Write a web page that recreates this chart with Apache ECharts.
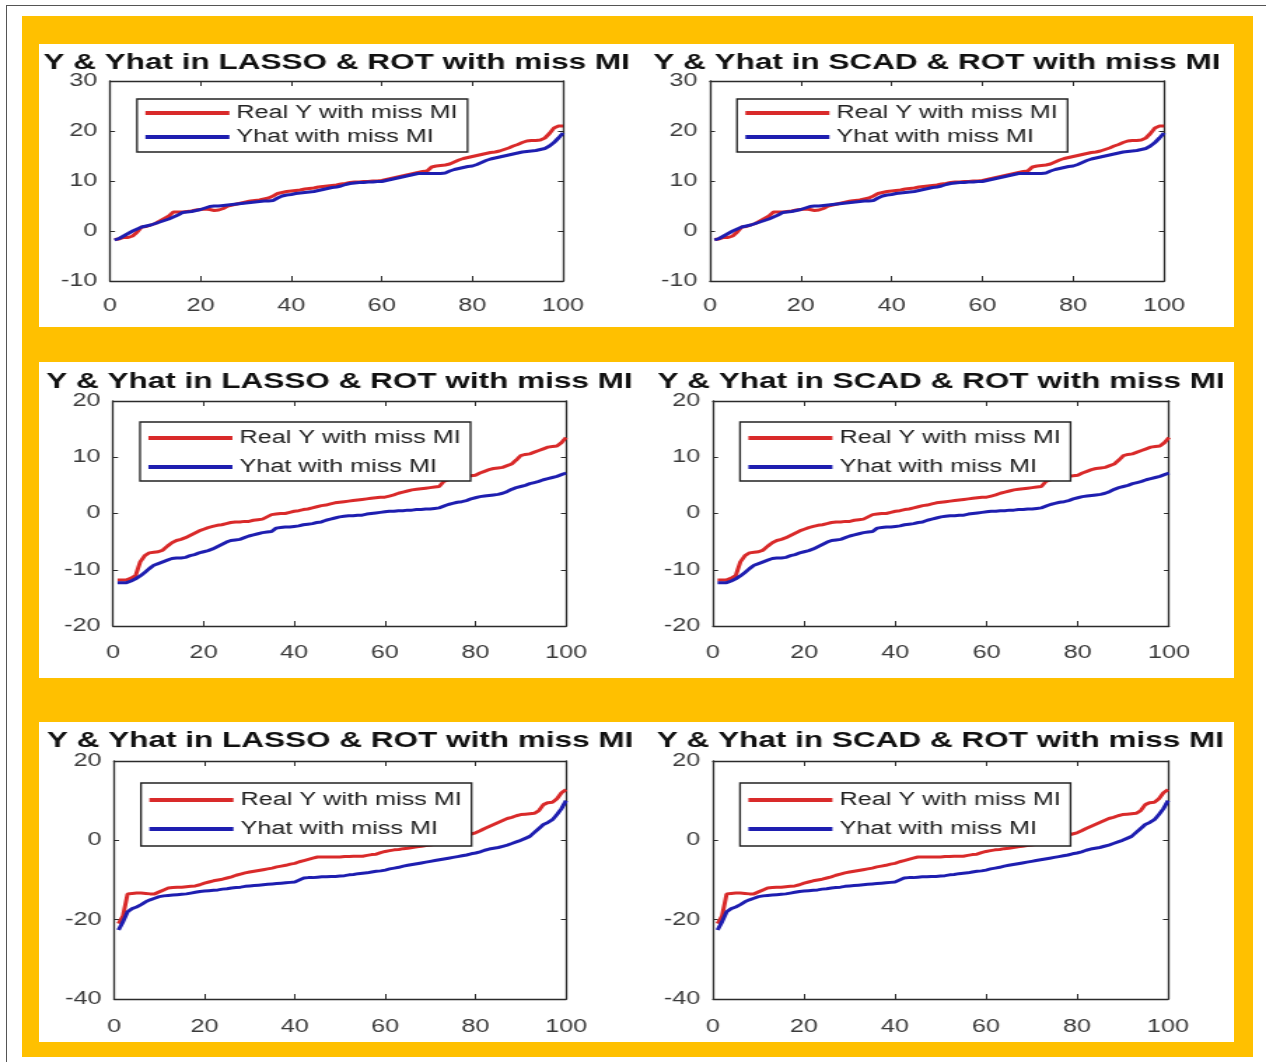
<!DOCTYPE html>
<html><head><meta charset="utf-8">
<script src="https://cdn.jsdelivr.net/npm/echarts@6/dist/echarts.min.js"></script>
<style>
html,body{margin:0;padding:0;background:#fff;overflow:hidden;width:1266px;height:1062px;}
#frame{position:absolute;left:6px;top:5px;width:1300px;height:1100px;border:1.5px solid #555;box-sizing:border-box;}
#orange{position:absolute;left:22px;top:16px;width:1231px;height:1041px;background:#FFC000;}
.panel{position:absolute;left:39px;width:1195px;background:#fff;}
#chart{position:absolute;left:0;top:0;width:904px;height:1062px;transform:scaleX(1.40044);transform-origin:0 0;}
</style></head>
<body>
<div id="frame"></div>
<div id="orange"></div>
<div class="panel" style="top:44px;height:283px"></div>
<div class="panel" style="top:362px;height:316px"></div>
<div class="panel" style="top:722px;height:320px"></div>
<div id="chart"></div>
<script>
// ---------- data ----------
const titleLeft = 'Y & Yhat in LASSO & ROT with miss MI';
const titleRight = 'Y & Yhat in SCAD & ROT with miss MI';
const nameReal = 'Real Y with miss MI';
const nameHat = 'Yhat with miss MI';
const xTicks = [0, 20, 40, 60, 80, 100];

const row1Real = [-1.7,-1.6,-1.3,-1.3,-1.0,-0.2,0.8,0.9,1.2,1.5,
 2.0,2.5,3.0,3.8,3.8,3.8,3.9,4.0,4.2,4.3,
 4.4,4.3,4.1,4.2,4.5,5.0,5.2,5.4,5.6,5.8,
 6.0,6.1,6.2,6.4,6.6,7.0,7.5,7.7,7.9,8.0,
 8.1,8.2,8.4,8.5,8.6,8.8,8.9,9.0,9.1,9.2,
 9.4,9.5,9.7,9.8,9.8,9.9,9.9,10.0,10.0,10.1,
 10.3,10.5,10.7,10.9,11.1,11.3,11.5,11.7,11.9,12.0,
 12.8,13.0,13.1,13.2,13.4,13.8,14.2,14.5,14.7,14.9,
 15.1,15.3,15.5,15.7,15.8,16.0,16.3,16.6,17.0,17.3,
 17.7,18.0,18.1,18.1,18.2,18.6,19.5,20.6,21.0,21.0];
const row1Hat = [-1.8,-1.5,-1.0,-0.5,0.0,0.4,0.8,1.0,1.2,1.5,
 1.8,2.1,2.4,2.8,3.2,3.7,3.8,3.9,4.1,4.3,
 4.6,4.9,5.0,5.0,5.1,5.2,5.3,5.4,5.5,5.6,
 5.7,5.8,5.9,6.0,6.0,6.1,6.6,7.0,7.2,7.3,
 7.5,7.6,7.7,7.8,7.9,8.1,8.3,8.5,8.7,8.8,
 9.0,9.3,9.5,9.6,9.7,9.7,9.8,9.8,9.9,9.9,
 10.1,10.3,10.5,10.7,10.9,11.1,11.3,11.5,11.5,11.5,
 11.5,11.5,11.5,11.6,12.0,12.3,12.5,12.7,12.9,13.0,
 13.3,13.7,14.1,14.4,14.6,14.8,15.0,15.2,15.4,15.6,
 15.8,15.9,16.0,16.1,16.3,16.5,17.0,17.7,18.6,19.6];
const row2Real = [-11.8,-11.8,-11.8,-11.5,-11.0,-8.6,-7.5,-7.0,-6.9,-6.8,
 -6.5,-5.8,-5.2,-4.8,-4.6,-4.3,-3.9,-3.5,-3.1,-2.8,
 -2.5,-2.3,-2.1,-2.0,-1.8,-1.6,-1.5,-1.5,-1.4,-1.4,
 -1.2,-1.1,-1.0,-0.6,-0.2,-0.1,0.0,0.0,0.2,0.4,
 0.5,0.7,0.8,1.0,1.2,1.4,1.5,1.7,1.9,2.0,
 2.1,2.2,2.3,2.4,2.5,2.6,2.7,2.8,2.9,2.9,
 3.1,3.3,3.6,3.8,4.0,4.2,4.3,4.4,4.5,4.6,
 4.7,4.8,5.7,6.0,6.2,6.3,6.5,6.6,6.7,6.8,
 7.2,7.5,7.8,8.0,8.1,8.2,8.5,8.8,9.5,10.3,
 10.5,10.6,10.9,11.2,11.5,11.8,11.9,12.0,12.6,13.5];
const row2Hat = [-12.3,-12.3,-12.3,-12.0,-11.6,-11.1,-10.5,-9.8,-9.2,-8.9,
 -8.6,-8.3,-8.0,-7.9,-7.9,-7.8,-7.5,-7.3,-7.0,-6.8,
 -6.6,-6.3,-5.9,-5.5,-5.1,-4.8,-4.7,-4.6,-4.3,-4.0,
 -3.8,-3.6,-3.4,-3.3,-3.2,-2.6,-2.5,-2.4,-2.4,-2.3,
 -2.2,-2.0,-1.9,-1.8,-1.6,-1.5,-1.2,-1.0,-0.8,-0.6,
 -0.5,-0.4,-0.4,-0.3,-0.3,-0.1,0.0,0.1,0.2,0.3,
 0.4,0.4,0.5,0.5,0.6,0.6,0.7,0.7,0.8,0.8,
 0.9,1.0,1.3,1.6,1.8,2.0,2.1,2.3,2.6,2.8,
 3.0,3.1,3.2,3.3,3.4,3.6,3.9,4.3,4.6,4.8,
 5.0,5.3,5.5,5.7,6.0,6.2,6.4,6.6,6.9,7.2];
const row3Real = [-21.0,-19.0,-13.5,-13.4,-13.3,-13.3,-13.4,-13.5,-13.5,-13.0,
 -12.5,-12.0,-11.9,-11.8,-11.8,-11.7,-11.6,-11.5,-11.2,-10.8,
 -10.5,-10.2,-10.0,-9.8,-9.5,-9.2,-8.8,-8.5,-8.2,-8.0,
 -7.8,-7.6,-7.4,-7.2,-7.0,-6.7,-6.5,-6.3,-6.0,-5.8,
 -5.4,-5.1,-4.8,-4.5,-4.2,-4.2,-4.2,-4.2,-4.2,-4.2,
 -4.1,-4.1,-4.0,-4.0,-4.0,-3.8,-3.6,-3.5,-3.1,-2.8,
 -2.6,-2.4,-2.3,-2.1,-2.0,-1.8,-1.6,-1.5,-1.3,-1.2,
 -1.0,-0.8,-0.5,-0.2,0.2,0.6,1.0,1.3,1.6,1.9,
 2.4,3.0,3.5,4.0,4.5,5.0,5.5,5.8,6.2,6.5,
 6.6,6.7,6.8,7.5,9.0,9.5,9.6,10.5,12.0,12.8];
const row3Hat = [-22.6,-20.5,-18.0,-17.2,-16.8,-16.2,-15.5,-15.0,-14.6,-14.2,
 -14.0,-13.9,-13.8,-13.7,-13.6,-13.5,-13.3,-13.1,-12.9,-12.8,
 -12.7,-12.6,-12.5,-12.3,-12.2,-12.0,-11.9,-11.8,-11.6,-11.5,
 -11.4,-11.3,-11.2,-11.1,-11.0,-10.9,-10.8,-10.7,-10.6,-10.5,
 -10.0,-9.5,-9.4,-9.4,-9.3,-9.2,-9.2,-9.1,-9.1,-9.0,
 -8.9,-8.7,-8.6,-8.4,-8.3,-8.2,-8.0,-7.8,-7.7,-7.5,
 -7.2,-7.0,-6.8,-6.5,-6.3,-6.1,-5.9,-5.7,-5.5,-5.3,
 -5.1,-4.9,-4.7,-4.5,-4.3,-4.1,-3.9,-3.7,-3.4,-3.2,
 -2.9,-2.5,-2.2,-2.0,-1.8,-1.5,-1.2,-0.8,-0.4,0.0,
 0.5,1.0,2.0,3.0,4.0,4.5,5.2,6.5,8.0,10.0];

const row1YTicks = [-10, 0, 10, 20, 30];
const row2YTicks = [-20, -10, 0, 10, 20];
const row3YTicks = [-40, -20, 0, 20];

// ---------- layout (final page px; chart is stretched horizontally) ----------
const S = 1266 / 904;
const rows = [
  {real: row1Real, hat: row1Hat, yTicks: row1YTicks,
   plots: [[110, 563], [710, 1164]], top: 81, bottom: 281, titleTop: 51,
   legTop: 99, legPad: [5, 7, 6, 6], legGap: 6, xMargin: 16},
  {real: row2Real, hat: row2Hat, yTicks: row2YTicks,
   plots: [[113, 566], [713, 1169]], top: 401, bottom: 626, titleTop: 370,
   legTop: 422, legPad: [7, 7, 5, 6], legGap: 11, xMargin: 18},
  {real: row3Real, hat: row3Hat, yTicks: row3YTicks,
   plots: [[114, 566], [713, 1168]], top: 761, bottom: 999, titleTop: 729,
   legTop: 783, legPad: [8, 7, 8, 6], legGap: 11, xMargin: 19}
];

const FONT = "'Liberation Sans', Arial, sans-serif";
const AX = '#2b2b2b';
const LBL = '#3a3a3a';
const RED = '#D92A2A';
const BLUE = '#1E1EB0';

const option = {
  animation: false,
  textStyle: {fontFamily: FONT},
  title: [], legend: [], grid: [], xAxis: [], yAxis: [], series: []
};

let k = 0;
rows.forEach(row => {
  row.plots.forEach((p, side) => {
    const left = p[0] / S, width = (p[1] - p[0]) / S;
    option.grid.push({left: left, top: row.top, width: width, height: row.bottom - row.top});
    option.title.push({
      text: side === 0 ? titleLeft : titleRight,
      left: (p[0] + p[1]) / 2 / S, top: row.titleTop, textAlign: 'center', padding: 0,
      textStyle: {fontSize: 22.5, fontWeight: 'bold', color: '#111', fontFamily: FONT}
    });
    option.legend.push({
      orient: 'vertical', left: (p[0] + 27) / S, top: row.legTop,
      padding: row.legPad, itemGap: row.legGap, itemWidth: 60, itemHeight: 4,
      icon: 'rect', borderColor: '#222', borderWidth: 1.3, backgroundColor: '#fff',
      selectedMode: false, data: [nameReal, nameHat],
      textStyle: {fontSize: 18, color: '#222', fontFamily: FONT}
    });
    const yMin = row.yTicks[0], yMax = row.yTicks[row.yTicks.length - 1];
    const yInt = row.yTicks[1] - row.yTicks[0];
    const lineStyle = {color: AX, width: 1.3};
    ['bottom', 'top'].forEach(pos => {
      option.xAxis.push({
        gridIndex: k, type: 'value', position: pos,
        min: xTicks[0], max: xTicks[xTicks.length - 1], interval: xTicks[1] - xTicks[0],
        axisLine: {show: true, onZero: false, lineStyle: lineStyle},
        axisTick: {show: true, inside: true, length: 5, lineStyle: {color: AX, width: 1}},
        axisLabel: {show: pos === 'bottom', margin: row.xMargin, fontSize: 18, color: LBL, fontFamily: FONT},
        splitLine: {show: false}
      });
    });
    ['left', 'right'].forEach(pos => {
      option.yAxis.push({
        gridIndex: k, type: 'value', position: pos,
        min: yMin, max: yMax, interval: yInt,
        axisLine: {show: true, onZero: false, lineStyle: lineStyle},
        axisTick: {show: true, inside: true, length: 3.6, lineStyle: {color: AX, width: 1}},
        axisLabel: {show: pos === 'left', margin: 9, fontSize: 18, color: LBL, fontFamily: FONT},
        splitLine: {show: false}
      });
    });
    const ax = 2 * k;
    option.series.push({
      name: nameReal, type: 'line', xAxisIndex: ax, yAxisIndex: ax,
      showSymbol: false, symbol: 'none', color: RED,
      lineStyle: {color: RED, width: 3},
      data: row.real.map((v, i) => [i + 1, v])
    });
    option.series.push({
      name: nameHat, type: 'line', xAxisIndex: ax, yAxisIndex: ax,
      showSymbol: false, symbol: 'none', color: BLUE,
      lineStyle: {color: BLUE, width: 3},
      data: row.hat.map((v, i) => [i + 1, v])
    });
    k++;
  });
});

const chart = echarts.init(document.getElementById('chart'));
chart.setOption(option);
</script>
</body></html>
